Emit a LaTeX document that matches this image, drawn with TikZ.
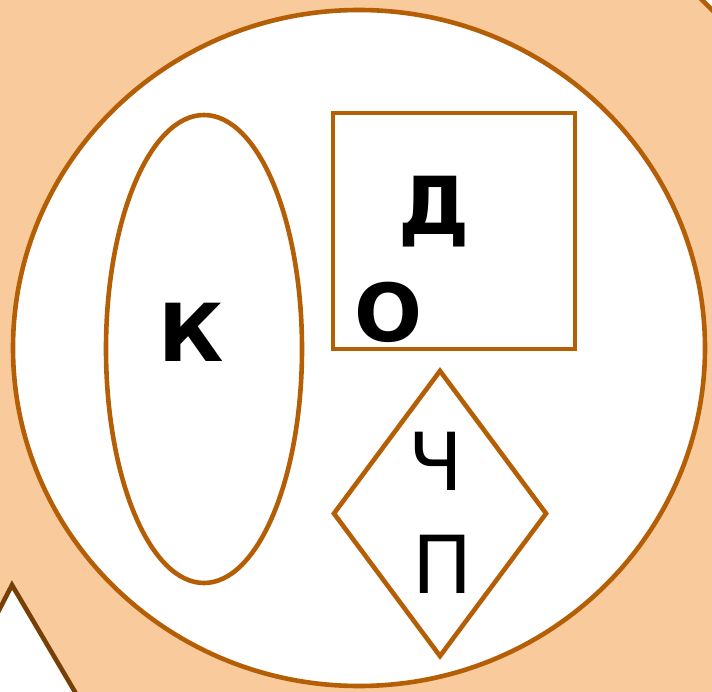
\documentclass[tikz,border=0pt]{standalone}
\usepackage{fontspec}
\setmainfont{DejaVu Sans}
\usetikzlibrary{shapes.geometric}
\definecolor{peach}{HTML}{F9CB9C}
\definecolor{brownline}{HTML}{B45F06}
\definecolor{darkbrown}{HTML}{783F04}
\tikzset{
  shapeline/.style={draw=brownline, line width=4.6pt, fill=white},
  bigletter/.style={anchor=base, inner sep=0pt, font=\bfseries\fontsize{80}{90}\selectfont},
  thinletter/.style={anchor=base, inner sep=0pt, font=\fontsize{80}{90}\selectfont}
}
\begin{document}
\begin{tikzpicture}[x=1pt,y=-1pt]
\useasboundingbox (0,0) rectangle (712,692);
\fill[peach] (0,0) rectangle (712,692);
% corner shapes
\path[fill=white, draw=brownline, line width=4.6pt] (697,-5) -- (720,18) -- (720,-5) -- cycle;
\path[fill=white, draw=darkbrown, line width=4.6pt] (-5,618) -- (12,585) -- (78,697) -- (-5,697) -- cycle;
% big circle
\node[shapeline, ellipse, minimum width=692pt, minimum height=676pt, inner sep=0pt] (circ) at (359,348) {};
% ellipse
\node[shapeline, ellipse, minimum width=196pt, minimum height=468pt, inner sep=0pt] (ell) at (204,349) {};
% rectangle
\node[shapeline, rectangle, minimum width=242pt, minimum height=236pt, inner sep=0pt] (rect) at (454,231) {};
% diamond
\node[shapeline, diamond, minimum width=214pt, minimum height=287pt, inner sep=0pt, aspect=0.75] (dia) at (440,513.5) {};
% letters
\node[bigletter] (d) at (434,235) {Д};
\node[bigletter] (o) at (388,342) {О};
\node[bigletter] (k) at (191,362) {К};
\node[thinletter] (ch) at (436,490) {Ч};
\node[thinletter] (p) at (443,593) {П};
\end{tikzpicture}
\end{document}
